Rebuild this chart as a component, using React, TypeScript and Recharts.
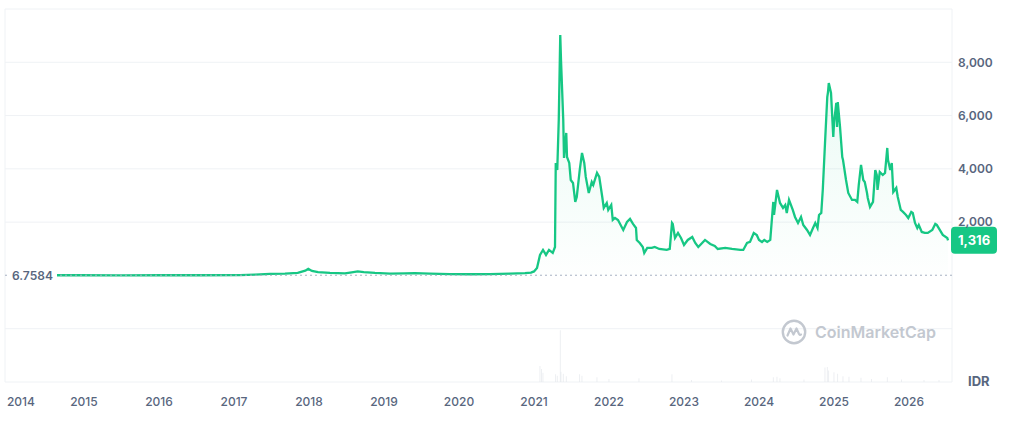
import React from "react";
import {
  Area,
  Bar,
  CartesianGrid,
  ComposedChart,
  ReferenceLine,
  XAxis,
  YAxis,
} from "recharts";

// price in IDR, time as decimal year
const priceYears = [
  2014.64, 2014.95, 2015.48, 2016.01, 2016.55, 2017.08, 2017.28, 2017.48, 2017.68, 2017.85,
  2017.95, 2017.99, 2018.04, 2018.12, 2018.28, 2018.48, 2018.57, 2018.65, 2018.73, 2018.88,
  2019.08, 2019.28, 2019.41, 2019.61, 2019.88, 2020.15, 2020.41, 2020.68, 2020.88, 2020.96,
  2021.0, 2021.04, 2021.08, 2021.12, 2021.16, 2021.2, 2021.25, 2021.28, 2021.29, 2021.31,
  2021.33, 2021.35, 2021.36, 2021.39, 2021.4, 2021.43, 2021.44, 2021.47, 2021.49, 2021.52,
  2021.55, 2021.57, 2021.61, 2021.64, 2021.67, 2021.69, 2021.73, 2021.77, 2021.79, 2021.84,
  2021.87, 2021.91, 2021.93, 2021.97, 2021.99, 2022.03, 2022.05, 2022.08, 2022.12, 2022.19,
  2022.24, 2022.28, 2022.32, 2022.36, 2022.37, 2022.41, 2022.45, 2022.47, 2022.51, 2022.57,
  2022.61, 2022.67, 2022.77, 2022.81, 2022.84, 2022.85, 2022.88, 2022.92, 2022.96, 2023.0,
  2023.05, 2023.11, 2023.15, 2023.19, 2023.28, 2023.35, 2023.41, 2023.45, 2023.55, 2023.64,
  2023.75, 2023.79, 2023.84, 2023.88, 2023.93, 2023.97, 2024.0, 2024.04, 2024.07, 2024.11,
  2024.15, 2024.19, 2024.2, 2024.24, 2024.28, 2024.32, 2024.35, 2024.37, 2024.4, 2024.45,
  2024.48, 2024.52, 2024.56, 2024.59, 2024.64, 2024.68, 2024.72, 2024.75, 2024.78, 2024.8,
  2024.83, 2024.85, 2024.88, 2024.91, 2024.92, 2024.93, 2024.96, 2024.99, 2025.0, 2025.03,
  2025.04, 2025.05, 2025.08, 2025.11, 2025.12, 2025.16, 2025.19, 2025.24, 2025.28, 2025.31,
  2025.33, 2025.36, 2025.39, 2025.41, 2025.44, 2025.45, 2025.48, 2025.52, 2025.55, 2025.57,
  2025.58, 2025.61, 2025.65, 2025.68, 2025.71, 2025.72, 2025.75, 2025.77, 2025.79, 2025.83,
  2025.85, 2025.89, 2025.92, 2025.96, 2025.99, 2026.03, 2026.05, 2026.08, 2026.11, 2026.13,
  2026.17, 2026.21, 2026.25, 2026.31, 2026.35, 2026.37, 2026.41, 2026.45, 2026.51, 2026.52,
];
const prices = [
  6.7584, 7, 5, 6, 7, 10, 30, 55, 65, 94,
  180, 244, 169, 120, 94, 75, 113, 150, 124, 94,
  70, 75, 86, 64, 49, 45, 52, 64, 83, 105,
  150, 281, 769, 957, 769, 957, 844, 1069, 4221, 3958,
  5834, 9024, 8086, 5834, 4409, 5347, 4446, 4221, 3583, 3471,
  2758, 2945, 3958, 4596, 4221, 3696, 3096, 3508, 3396, 3846,
  3696, 2945, 2533, 2720, 2458, 2645, 2082, 2157, 2082, 1707,
  2007, 2120, 1932, 1782, 1332, 1219, 1069, 844, 1032, 1032,
  1069, 994, 957, 994, 1970, 1932, 1407, 1595, 1407, 1144,
  1332, 1444, 1219, 1069, 1332, 1182, 1107, 994, 1032, 994,
  957, 957, 1219, 1257, 1595, 1520, 1332, 1257, 1332, 1257,
  1332, 2758, 2270, 3208, 2720, 2533, 2645, 2345, 2833, 2458,
  2195, 1970, 2195, 1895, 1707, 1520, 1782, 1970, 1782, 2270,
  2345, 3208, 4971, 6697, 6885, 7223, 6847, 5197, 5722, 6472,
  5572, 6510, 5572, 4446, 4334, 3583, 3095, 2833, 2833, 2758,
  3396, 4146, 3583, 3508, 3095, 2908, 2570, 2758, 3958, 3771,
  3208, 3883, 3771, 3846, 4784, 4334, 3958, 4221, 3133, 3283,
  2945, 2458, 2383, 2270, 2157, 2383, 2345, 1970, 1782, 1895,
  1632, 1595, 1595, 1707, 1932, 1895, 1707, 1520, 1407, 1316,
];

// trading volume, trillion IDR
const volumeYears = [
  2021.08, 2021.1, 2021.12, 2021.29, 2021.31, 2021.35, 2021.36, 2021.39, 2021.43, 2021.61,
  2021.64, 2021.84, 2022.0, 2022.4, 2022.84, 2023.1, 2023.5, 2023.9, 2024.19, 2024.24,
  2024.28, 2024.6, 2024.88, 2024.91, 2024.93, 2025.0, 2025.05, 2025.12, 2025.2, 2025.36,
  2025.5, 2025.71, 2025.9, 2026.2, 2026.4,
];
const volumes = [
  310, 250, 180, 150, 120, 1000, 200, 160, 110, 150,
  120, 90, 60, 70, 150, 40, 30, 50, 90, 100,
  70, 50, 280, 290, 220, 190, 160, 110, 100, 80,
  60, 90, 50, 40, 40,
];

const yearTicks = [2014, 2015, 2016, 2017, 2018, 2019, 2020, 2021, 2022, 2023, 2024, 2025, 2026];
const priceTicks = [2000, 4000, 6000, 8000];
const gridPrices = [-4000, -2000, 2000, 4000, 6000, 8000, 10000];

const X_MIN = 2013.947;
const X_MAX = 2026.573;
const GREEN = "#16c784";
const TEXT = "#58667e";

const openPrice = prices[0];
const lastPrice = prices[prices.length - 1];

const rows = (() => {
  const map = new Map<number, { t: number; price?: number; vol?: number }>();
  priceYears.forEach((t, i) => map.set(t, { t, price: prices[i] }));
  volumeYears.forEach((t, i) => {
    const r = map.get(t) ?? { t };
    r.vol = volumes[i];
    map.set(t, r);
  });
  return Array.from(map.values()).sort((a, b) => a.t - b.t);
})();

function YearTick({ x, y, payload }: any) {
  const first = payload.value === yearTicks[0];
  return (
    <text
      x={first ? x - 2 : x}
      y={y}
      dy={16}
      textAnchor={first ? "start" : "middle"}
      fill={TEXT}
      fontSize={12}
      fontWeight={500}
    >
      {payload.value}
    </text>
  );
}

function PriceBadge({ viewBox }: any) {
  const x = viewBox.x + viewBox.width;
  const y = viewBox.y;
  return (
    <g>
      <rect x={x - 1} y={y - 13.5} width={46} height={27} rx={4} fill={GREEN} />
      <text x={x + 6} y={y} dy="0.36em" fill="#fff" fontSize={13} fontWeight={700}>
        {lastPrice.toLocaleString("en-US")}
      </text>
    </g>
  );
}

function OpenLabel({ viewBox }: any) {
  const x = viewBox.x;
  const y = viewBox.y;
  return (
    <g>
      <rect x={x + 4} y={y - 9} width={48} height={18} fill="#fff" />
      <text x={x + 7} y={y} dy="0.36em" fill={TEXT} fontSize={12} fontWeight={600}>
        {openPrice}
      </text>
    </g>
  );
}

export default function App() {
  return (
    <div
      style={{
        position: "absolute",
        left: 0,
        top: 0,
        width: 1023,
        height: 426,
        background: "#fff",
        fontFamily: "Inter, 'Noto Sans', sans-serif",
      }}
    >
      <ComposedChart
        width={1023}
        height={426}
        data={rows}
        margin={{ top: 9, right: 0, bottom: 0, left: 5 }}
      >
        <defs>
          <linearGradient id="priceFill" x1="0" y1="0" x2="0" y2="1">
            <stop offset="0%" stopColor={GREEN} stopOpacity={0.18} />
            <stop offset="100%" stopColor={GREEN} stopOpacity={0.01} />
          </linearGradient>
        </defs>
        <CartesianGrid
          yAxisId="price"
          stroke="#eff2f5"
          horizontalValues={gridPrices}
          verticalValues={[X_MIN, X_MAX]}
        />
        <XAxis
          dataKey="t"
          type="number"
          domain={[X_MIN, X_MAX]}
          ticks={yearTicks}
          allowDataOverflow
          height={44}
          tickLine={false}
          axisLine={false}
          tickMargin={2}
          tick={<YearTick />}
          interval={0}
        />
        <YAxis
          yAxisId="price"
          orientation="right"
          type="number"
          domain={[-4000, 10000]}
          ticks={priceTicks}
          allowDataOverflow
          width={71}
          tickLine={false}
          axisLine={false}
          tickSize={6}
          tickMargin={0}
          tickFormatter={(v: number) => v.toLocaleString("en-US")}
          tick={{ fill: TEXT, fontSize: 12, fontWeight: 600 }}
        />
        <YAxis yAxisId="vol" hide domain={[0, 7200]} allowDataOverflow />
        <Bar
          yAxisId="vol"
          dataKey="vol"
          barSize={1}
          fill="#e4e7ec"
          isAnimationActive={false}
        />
        <ReferenceLine
          yAxisId="price"
          y={openPrice}
          stroke="#a7b1c2"
          strokeDasharray="2 3"
          label={<OpenLabel />}
        />
        <Area
          yAxisId="price"
          dataKey="price"
          type="linear"
          stroke={GREEN}
          strokeWidth={2.3}
          fill="url(#priceFill)"
          baseValue={0}
          connectNulls
          dot={false}
          activeDot={false}
          isAnimationActive={false}
        />
        <ReferenceLine
          yAxisId="price"
          y={lastPrice}
          stroke="none"
          label={<PriceBadge />}
        />
      </ComposedChart>
      <div
        style={{
          position: "absolute",
          left: 781,
          top: 319,
          display: "flex",
          alignItems: "center",
          color: "#c3c8d0",
          fontSize: 16,
          fontWeight: 600,
        }}
      >
        <svg width={26} height={26} viewBox="0 0 26 26">
          <circle cx={13} cy={13} r={11.2} fill="none" stroke="#c3c8d0" strokeWidth={2.4} />
          <path
            d="M6.5 16.5 L9.5 9.5 L12.5 15.5 L15.5 9.5 L18 15 Q19 16.5 20 15.5"
            fill="none"
            stroke="#c3c8d0"
            strokeWidth={2.2}
            strokeLinecap="round"
            strokeLinejoin="round"
          />
        </svg>
        <span style={{ marginLeft: 8 }}>CoinMarketCap</span>
      </div>
      <div
        style={{
          position: "absolute",
          left: 968,
          top: 373,
          color: TEXT,
          fontSize: 13,
          fontWeight: 700,
        }}
      >
        IDR
      </div>
    </div>
  );
}
